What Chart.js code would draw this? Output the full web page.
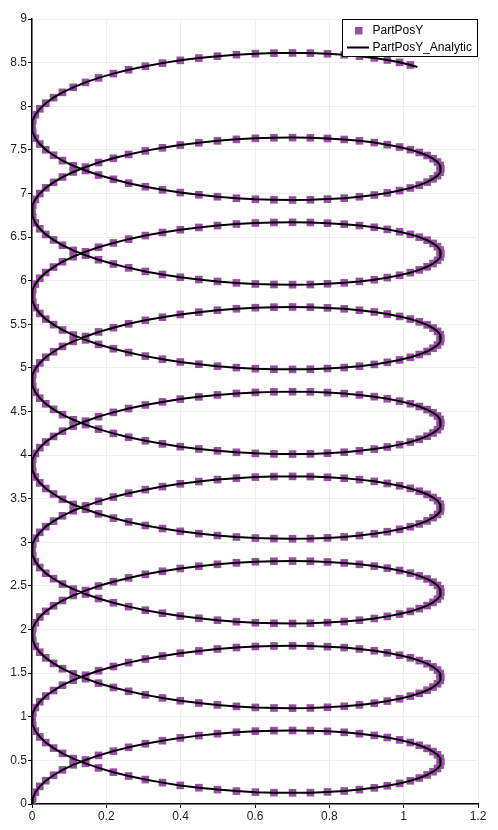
<!DOCTYPE html>
<html>
<head>
<meta charset="utf-8">
<script src="https://cdn.jsdelivr.net/npm/chart.js@4/dist/chart.umd.min.js"></script>
<style>
html,body{margin:0;padding:0;background:#fff;}
canvas{display:block;}
</style>
</head>
<body>
<canvas id="c" width="498" height="830"></canvas>
<script>
const seriesNames = ["PartPosY", "PartPosY_Analytic"];

const posX = [
0, 0.002, 0.009, 0.021, 0.037, 0.058, 0.082, 0.111, 0.144, 0.179, 0.219, 0.260, 0.305, 0.351, 0.399, 0.449, 0.499, 0.550, 0.601, 0.651, 0.701, 0.749, 0.795, 0.840, 0.881, 0.921, 0.956, 0.989, 1.018, 1.042, 1.063, 1.079, 1.091, 1.098, 1.100, 1.098, 1.091, 1.079, 1.063, 1.042, 1.018, 0.989, 0.956, 0.921, 0.881, 0.840, 0.795, 0.749, 0.701, 0.651, 0.601, 0.550, 0.499, 0.449, 0.399, 0.351, 0.305, 0.260, 0.219, 0.179, 0.144, 0.111, 0.082, 0.058, 0.037, 0.021, 0.009, 0.002,
0, 0.002, 0.009, 0.021, 0.037, 0.058, 0.082, 0.111, 0.144, 0.179, 0.219, 0.260, 0.305, 0.351, 0.399, 0.449, 0.499, 0.550, 0.601, 0.651, 0.701, 0.749, 0.795, 0.840, 0.881, 0.921, 0.956, 0.989, 1.018, 1.042, 1.063, 1.079, 1.091, 1.098, 1.100, 1.098, 1.091, 1.079, 1.063, 1.042, 1.018, 0.989, 0.956, 0.921, 0.881, 0.840, 0.795, 0.749, 0.701, 0.651, 0.601, 0.550, 0.499, 0.449, 0.399, 0.351, 0.305, 0.260, 0.219, 0.179, 0.144, 0.111, 0.082, 0.058, 0.037, 0.021, 0.009, 0.002,
0, 0.002, 0.009, 0.021, 0.037, 0.058, 0.082, 0.111, 0.144, 0.179, 0.219, 0.260, 0.305, 0.351, 0.399, 0.449, 0.499, 0.550, 0.601, 0.651, 0.701, 0.749, 0.795, 0.840, 0.881, 0.921, 0.956, 0.989, 1.018, 1.042, 1.063, 1.079, 1.091, 1.098, 1.100, 1.098, 1.091, 1.079, 1.063, 1.042, 1.018, 0.989, 0.956, 0.921, 0.881, 0.840, 0.795, 0.749, 0.701, 0.651, 0.601, 0.550, 0.499, 0.449, 0.399, 0.351, 0.305, 0.260, 0.219, 0.179, 0.144, 0.111, 0.082, 0.058, 0.037, 0.021, 0.009, 0.002,
0, 0.002, 0.009, 0.021, 0.037, 0.058, 0.082, 0.111, 0.144, 0.179, 0.219, 0.260, 0.305, 0.351, 0.399, 0.449, 0.499, 0.550, 0.601, 0.651, 0.701, 0.749, 0.795, 0.840, 0.881, 0.921, 0.956, 0.989, 1.018, 1.042, 1.063, 1.079, 1.091, 1.098, 1.100, 1.098, 1.091, 1.079, 1.063, 1.042, 1.018, 0.989, 0.956, 0.921, 0.881, 0.840, 0.795, 0.749, 0.701, 0.651, 0.601, 0.550, 0.499, 0.449, 0.399, 0.351, 0.305, 0.260, 0.219, 0.179, 0.144, 0.111, 0.082, 0.058, 0.037, 0.021, 0.009, 0.002,
0, 0.002, 0.009, 0.021, 0.037, 0.058, 0.082, 0.111, 0.144, 0.179, 0.219, 0.260, 0.305, 0.351, 0.399, 0.449, 0.499, 0.550, 0.601, 0.651, 0.701, 0.749, 0.795, 0.840, 0.881, 0.921, 0.956, 0.989, 1.018, 1.042, 1.063, 1.079, 1.091, 1.098, 1.100, 1.098, 1.091, 1.079, 1.063, 1.042, 1.018, 0.989, 0.956, 0.921, 0.881, 0.840, 0.795, 0.749, 0.701, 0.651, 0.601, 0.550, 0.499, 0.449, 0.399, 0.351, 0.305, 0.260, 0.219, 0.179, 0.144, 0.111, 0.082, 0.058, 0.037, 0.021, 0.009, 0.002,
0, 0.002, 0.009, 0.021, 0.037, 0.058, 0.082, 0.111, 0.144, 0.179, 0.219, 0.260, 0.305, 0.351, 0.399, 0.449, 0.499, 0.550, 0.601, 0.651, 0.701, 0.749, 0.795, 0.840, 0.881, 0.921, 0.956, 0.989, 1.018, 1.042, 1.063, 1.079, 1.091, 1.098, 1.100, 1.098, 1.091, 1.079, 1.063, 1.042, 1.018, 0.989, 0.956, 0.921, 0.881, 0.840, 0.795, 0.749, 0.701, 0.651, 0.601, 0.550, 0.499, 0.449, 0.399, 0.351, 0.305, 0.260, 0.219, 0.179, 0.144, 0.111, 0.082, 0.058, 0.037, 0.021, 0.009, 0.002,
0, 0.002, 0.009, 0.021, 0.037, 0.058, 0.082, 0.111, 0.144, 0.179, 0.219, 0.260, 0.305, 0.351, 0.399, 0.449, 0.499, 0.550, 0.601, 0.651, 0.701, 0.749, 0.795, 0.840, 0.881, 0.921, 0.956, 0.989, 1.018, 1.042, 1.063, 1.079, 1.091, 1.098, 1.100, 1.098, 1.091, 1.079, 1.063, 1.042, 1.018, 0.989, 0.956, 0.921, 0.881, 0.840, 0.795, 0.749, 0.701, 0.651, 0.601, 0.550, 0.499, 0.449, 0.399, 0.351, 0.305, 0.260, 0.219, 0.179, 0.144, 0.111, 0.082, 0.058, 0.037, 0.021, 0.009, 0.002,
0, 0.002, 0.009, 0.021, 0.037, 0.058, 0.082, 0.111, 0.144, 0.179, 0.219, 0.260, 0.305, 0.351, 0.399, 0.449, 0.499, 0.550, 0.601, 0.651, 0.701, 0.749, 0.795, 0.840, 0.881, 0.921, 0.956, 0.989, 1.018, 1.042, 1.063, 1.079, 1.091, 1.098, 1.100, 1.098, 1.091, 1.079, 1.063, 1.042, 1.018, 0.989, 0.956, 0.921, 0.881, 0.840, 0.795, 0.749, 0.701, 0.651, 0.601, 0.550, 0.499, 0.449, 0.399, 0.351, 0.305, 0.260, 0.219, 0.179, 0.144, 0.111, 0.082, 0.058, 0.037, 0.021, 0.009, 0.002,
0, 0.002, 0.009, 0.021, 0.037, 0.058, 0.082, 0.111, 0.144, 0.179, 0.219, 0.260, 0.305, 0.351, 0.399, 0.449, 0.499, 0.550, 0.601, 0.651, 0.701, 0.749, 0.795, 0.840, 0.881, 0.921, 0.956, 0.989, 1.018
];

const posY = [
0.000, 0.068, 0.135, 0.202, 0.267, 0.330, 0.391, 0.449, 0.505, 0.557, 0.606, 0.650, 0.691, 0.726, 0.758, 0.784, 0.806, 0.823, 0.835, 0.841, 0.843, 0.841, 0.833, 0.822, 0.806, 0.786, 0.762, 0.735, 0.705, 0.673, 0.638, 0.601, 0.564, 0.525, 0.485, 0.446, 0.407, 0.370, 0.333, 0.298, 0.266, 0.236, 0.209, 0.185, 0.165, 0.149, 0.138, 0.130, 0.128, 0.130, 0.136, 0.148, 0.165, 0.187, 0.213, 0.245, 0.280, 0.321, 0.365, 0.414, 0.466, 0.521, 0.580, 0.641, 0.704, 0.769, 0.836, 0.903,
0.971, 1.039, 1.106, 1.173, 1.238, 1.301, 1.362, 1.420, 1.476, 1.528, 1.577, 1.621, 1.662, 1.697, 1.729, 1.755, 1.777, 1.794, 1.806, 1.812, 1.814, 1.812, 1.804, 1.793, 1.777, 1.757, 1.733, 1.706, 1.676, 1.644, 1.609, 1.572, 1.535, 1.496, 1.456, 1.417, 1.378, 1.341, 1.304, 1.269, 1.237, 1.207, 1.180, 1.156, 1.136, 1.120, 1.109, 1.101, 1.099, 1.101, 1.107, 1.119, 1.136, 1.158, 1.184, 1.216, 1.251, 1.292, 1.336, 1.385, 1.437, 1.492, 1.551, 1.612, 1.675, 1.740, 1.807, 1.874,
1.942, 2.010, 2.077, 2.144, 2.209, 2.272, 2.333, 2.391, 2.447, 2.499, 2.548, 2.592, 2.633, 2.668, 2.700, 2.726, 2.748, 2.765, 2.777, 2.783, 2.785, 2.783, 2.775, 2.764, 2.748, 2.728, 2.704, 2.677, 2.647, 2.615, 2.580, 2.543, 2.506, 2.467, 2.427, 2.388, 2.349, 2.312, 2.275, 2.240, 2.208, 2.178, 2.151, 2.127, 2.107, 2.091, 2.080, 2.072, 2.070, 2.072, 2.078, 2.090, 2.107, 2.129, 2.155, 2.187, 2.222, 2.263, 2.307, 2.356, 2.408, 2.463, 2.522, 2.583, 2.646, 2.711, 2.778, 2.845,
2.913, 2.981, 3.048, 3.115, 3.180, 3.243, 3.304, 3.362, 3.418, 3.470, 3.519, 3.563, 3.604, 3.639, 3.671, 3.697, 3.719, 3.736, 3.748, 3.754, 3.756, 3.754, 3.746, 3.735, 3.719, 3.699, 3.675, 3.648, 3.618, 3.586, 3.551, 3.514, 3.477, 3.438, 3.398, 3.359, 3.320, 3.283, 3.246, 3.211, 3.179, 3.149, 3.122, 3.098, 3.078, 3.062, 3.051, 3.043, 3.041, 3.043, 3.049, 3.061, 3.078, 3.100, 3.126, 3.158, 3.193, 3.234, 3.278, 3.327, 3.379, 3.434, 3.493, 3.554, 3.617, 3.682, 3.749, 3.816,
3.884, 3.952, 4.019, 4.086, 4.151, 4.214, 4.275, 4.333, 4.389, 4.441, 4.490, 4.534, 4.575, 4.610, 4.642, 4.668, 4.690, 4.707, 4.719, 4.725, 4.727, 4.725, 4.717, 4.706, 4.690, 4.670, 4.646, 4.619, 4.589, 4.557, 4.522, 4.485, 4.448, 4.409, 4.369, 4.330, 4.291, 4.254, 4.217, 4.182, 4.150, 4.120, 4.093, 4.069, 4.049, 4.033, 4.022, 4.014, 4.012, 4.014, 4.020, 4.032, 4.049, 4.071, 4.097, 4.129, 4.164, 4.205, 4.249, 4.298, 4.350, 4.405, 4.464, 4.525, 4.588, 4.653, 4.720, 4.787,
4.855, 4.923, 4.990, 5.057, 5.122, 5.185, 5.246, 5.304, 5.360, 5.412, 5.461, 5.505, 5.546, 5.581, 5.613, 5.639, 5.661, 5.678, 5.690, 5.696, 5.698, 5.696, 5.688, 5.677, 5.661, 5.641, 5.617, 5.590, 5.560, 5.528, 5.493, 5.456, 5.419, 5.380, 5.340, 5.301, 5.262, 5.225, 5.188, 5.153, 5.121, 5.091, 5.064, 5.040, 5.020, 5.004, 4.993, 4.985, 4.983, 4.985, 4.991, 5.003, 5.020, 5.042, 5.068, 5.100, 5.135, 5.176, 5.220, 5.269, 5.321, 5.376, 5.435, 5.496, 5.559, 5.624, 5.691, 5.758,
5.826, 5.894, 5.961, 6.028, 6.093, 6.156, 6.217, 6.275, 6.331, 6.383, 6.432, 6.476, 6.517, 6.552, 6.584, 6.610, 6.632, 6.649, 6.661, 6.667, 6.669, 6.667, 6.659, 6.648, 6.632, 6.612, 6.588, 6.561, 6.531, 6.499, 6.464, 6.427, 6.390, 6.351, 6.311, 6.272, 6.233, 6.196, 6.159, 6.124, 6.092, 6.062, 6.035, 6.011, 5.991, 5.975, 5.964, 5.956, 5.954, 5.956, 5.962, 5.974, 5.991, 6.013, 6.039, 6.071, 6.106, 6.147, 6.191, 6.240, 6.292, 6.347, 6.406, 6.467, 6.530, 6.595, 6.662, 6.729,
6.797, 6.865, 6.932, 6.999, 7.064, 7.127, 7.188, 7.246, 7.302, 7.354, 7.403, 7.447, 7.488, 7.523, 7.555, 7.581, 7.603, 7.620, 7.632, 7.638, 7.640, 7.638, 7.630, 7.619, 7.603, 7.583, 7.559, 7.532, 7.502, 7.470, 7.435, 7.398, 7.361, 7.322, 7.282, 7.243, 7.204, 7.167, 7.130, 7.095, 7.063, 7.033, 7.006, 6.982, 6.962, 6.946, 6.935, 6.927, 6.925, 6.927, 6.933, 6.945, 6.962, 6.984, 7.010, 7.042, 7.077, 7.118, 7.162, 7.211, 7.263, 7.318, 7.377, 7.438, 7.501, 7.566, 7.633, 7.700,
7.768, 7.836, 7.903, 7.970, 8.035, 8.098, 8.159, 8.217, 8.273, 8.325, 8.374, 8.418, 8.459, 8.494, 8.526, 8.552, 8.574, 8.591, 8.603, 8.609, 8.611, 8.609, 8.601, 8.590, 8.574, 8.554, 8.530, 8.503, 8.473
];

// analytic curve follows the same samples and ends slightly further
const analyticTailX = [1.037];
const analyticTailY = [8.449];

const xTickValues = [0, 0.2, 0.4, 0.6, 0.8, 1, 1.2];
const yTickValues = [0, 0.5, 1, 1.5, 2, 2.5, 3, 3.5, 4, 4.5, 5, 5.5, 6, 6.5, 7, 7.5, 8, 8.5, 9];

const markerColor = 'rgb(152, 78, 163)';

const n = Math.min(posX.length, posY.length);
const markerPts = [];
for (let i = 0; i < n; i++) markerPts.push({x: posX[i], y: posY[i]});
const analyticPts = markerPts.slice();
for (let i = 0; i < analyticTailX.length; i++) analyticPts.push({x: analyticTailX[i], y: analyticTailY[i]});

const FONT = '"Liberation Sans", Arial, sans-serif';

const boxLegend = {
  id: 'boxLegend',
  afterDraw(chart) {
    const ctx = chart.ctx;
    ctx.save();
    const x0 = 342.5, y0 = 19.5, w = 135, h = 37;
    ctx.fillStyle = '#fff';
    ctx.fillRect(x0, y0, w, h);
    ctx.strokeStyle = '#000';
    ctx.lineWidth = 1;
    ctx.strokeRect(x0, y0, w, h);
    ctx.fillStyle = markerColor;
    ctx.fillRect(355, 27, 7.5, 7.5);
    ctx.strokeStyle = '#000';
    ctx.lineWidth = 2;
    ctx.beginPath();
    ctx.moveTo(347, 47.5);
    ctx.lineTo(369, 47.5);
    ctx.stroke();
    ctx.fillStyle = '#000';
    ctx.font = '12px ' + FONT;
    ctx.textBaseline = 'middle';
    ctx.textAlign = 'left';
    ctx.fillText(seriesNames[0], 372.5, 31);
    ctx.fillText(seriesNames[1], 372.5, 48);
    ctx.restore();
  }
};

new Chart(document.getElementById('c'), {
  type: 'scatter',
  data: {
    datasets: [
      {
        label: seriesNames[1],
        data: analyticPts,
        showLine: true,
        borderColor: '#000',
        borderWidth: 2,
        pointRadius: 0,
        tension: 0,
        order: 0
      },
      {
        label: seriesNames[0],
        data: markerPts,
        showLine: false,
        pointStyle: 'rect',
        pointRadius: 5.4,
        backgroundColor: markerColor,
        borderColor: markerColor,
        borderWidth: 0,
        order: 1
      }
    ]
  },
  options: {
    responsive: false,
    animation: false,
    devicePixelRatio: 1,
    layout: { padding: { top: 19, right: 20, left: 0, bottom: 0 } },
    plugins: {
      legend: { display: false },
      tooltip: { enabled: false }
    },
    scales: {
      x: {
        type: 'linear',
        min: 0, max: 1.2,
        afterBuildTicks(s) { s.ticks = xTickValues.map(v => ({value: v})); },
        afterFit(s) { s.height = 26; },
        ticks: {
          color: '#222',
          font: { family: FONT, size: 12 },
          padding: 1,
          maxRotation: 0,
          callback: (v) => String(v)
        },
        grid: { color: '#efefef', lineWidth: 1, tickLength: 4, tickColor: '#000', drawTicks: true },
        border: { color: '#000', width: 1.5 }
      },
      y: {
        type: 'linear',
        min: 0, max: 9,
        afterBuildTicks(s) { s.ticks = yTickValues.map(v => ({value: v})); },
        afterFit(s) { s.width = 32; },
        ticks: {
          color: '#222',
          font: { family: FONT, size: 12 },
          padding: 1,
          callback: (v) => String(v)
        },
        grid: { color: '#efefef', lineWidth: 1, tickLength: 4, tickColor: '#000', drawTicks: true },
        border: { color: '#000', width: 1.5 }
      }
    }
  },
  plugins: [boxLegend]
});
</script>
</body>
</html>
